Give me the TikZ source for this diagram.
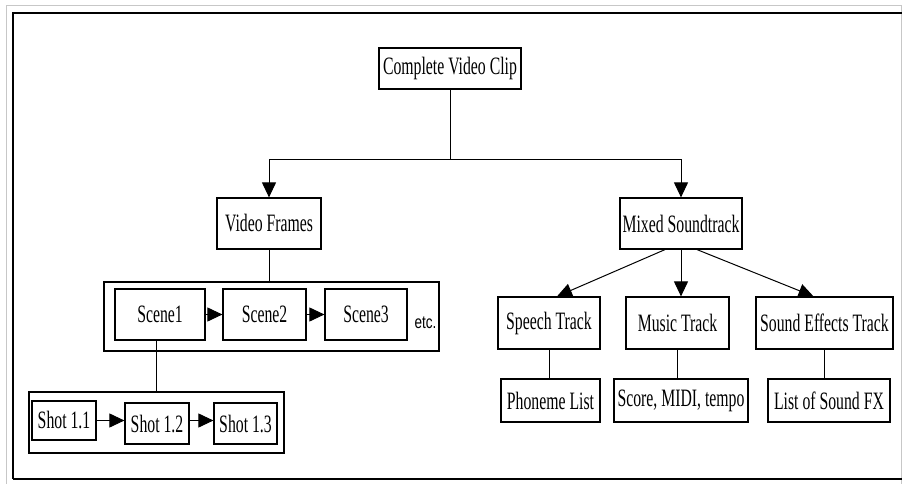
\documentclass[tikz,border=0pt]{standalone}
\usepackage{fontspec}
\setmainfont[FakeStretch=0.63]{Liberation Serif}
\newfontfamily\etcfont[FakeStretch=0.75]{Liberation Sans}
\usetikzlibrary{arrows.meta}
\begin{document}
\begin{tikzpicture}[x=1pt,y=-1pt,line width=1.2pt,
  box/.style={draw,inner sep=0pt,anchor=center,font=\fontsize{25}{27}\selectfont},
  holder/.style={draw,inner sep=0pt,anchor=center},
  arr/.style={-{Triangle[length=15pt,width=14pt]}},
  link/.style={line width=1pt}]
\useasboundingbox (0,0) rectangle (902,484);
\fill[white] (0,0) rectangle (902,484);
% page frame
\draw[black!22,line width=1pt] (6,484) -- (6,6) -- (902,6);
\draw[black!22,line width=1pt] (901,6) -- (901,484);
\draw[line width=2pt] (12.5,479) -- (12.5,13) -- (902,13);
\draw[line width=2pt] (12.5,479) -- (902,479);
% top
\node[box,minimum width=142,minimum height=41] (cvc) at (450,68.5) {Complete Video Clip};
\node[box,minimum width=104,minimum height=51] (vf) at (269,223.5) {Video Frames};
\node[box,minimum width=122,minimum height=51] (ms) at (681,223.5) {Mixed Soundtrack};
\coordinate (j) at (cvc.south |- 0,159);
\draw[link] (cvc.south) -- (j);
\draw[link,arr] (j) -| (vf.north);
\draw[link,arr] (j) -| (ms.north);
% scenes
\node[holder,minimum width=335,minimum height=69] (scbox) at (271.5,316.5) {};
\node[box,minimum width=90,minimum height=51] (s1) at (160,314.5) {Scene1};
\node[box,minimum width=83,minimum height=51] (s2) at (264.5,314.5) {Scene2};
\node[box,minimum width=82,minimum height=51] (s3) at (366,314.5) {Scene3};
\node[anchor=center,inner sep=0pt,font=\etcfont\fontsize{18}{20}\selectfont] (etc) at (425.5,323) {etc.};
\draw[link] (vf.south) -- (vf.south |- scbox.north);
\draw[link,arr] (s1.east) -- (s2.west);
\draw[link,arr] (s2.east) -- (s3.west);
% shots
\node[holder,minimum width=255,minimum height=61] (shbox) at (156.5,422.5) {};
\node[box,minimum width=64,minimum height=39] (sh1) at (64,420.5) {Shot 1.1};
\node[box,minimum width=64,minimum height=41] (sh2) at (157,423.5) {Shot 1.2};
\node[box,minimum width=63,minimum height=41] (sh3) at (245.5,423.5) {Shot 1.3};
\draw[link] (s1.south -| shbox.north) -- (shbox.north);
\draw[link,arr] (sh1.east) -- (sh2.west |- sh1.east);
\draw[link,arr] (sh2.east |- sh1.east) -- (sh3.west |- sh1.east);
% sound
\node[box,minimum width=102,minimum height=52] (sp) at (549,323) {Speech Track};
\node[box,minimum width=103,minimum height=52] (mu) at (677.5,323) {Music Track};
\node[box,minimum width=137,minimum height=52] (sfx) at (824.5,323) {Sound Effects Track};
\draw[link,arr] ([xshift=-16]ms.south) -- ([xshift=8]sp.north);
\draw[link,arr] (ms.south) -- (ms.south |- mu.north);
\draw[link,arr] ([xshift=16]ms.south) -- ([xshift=-11]sfx.north);
\node[box,minimum width=99,minimum height=43] (ph) at (550.5,400.5) {Phoneme List};
\node[box,minimum width=134,minimum height=43] (scr) at (681,400.5) {Score, MIDI, tempo};
\node[box,minimum width=122,minimum height=43] (lfx) at (829,400.5) {List of Sound FX};
\draw[link] (sp.south) -- (sp.south |- ph.north);
\draw[link] (mu.south) -- (mu.south |- scr.north);
\draw[link] (sfx.south) -- (sfx.south |- lfx.north);
\end{tikzpicture}
\end{document}
